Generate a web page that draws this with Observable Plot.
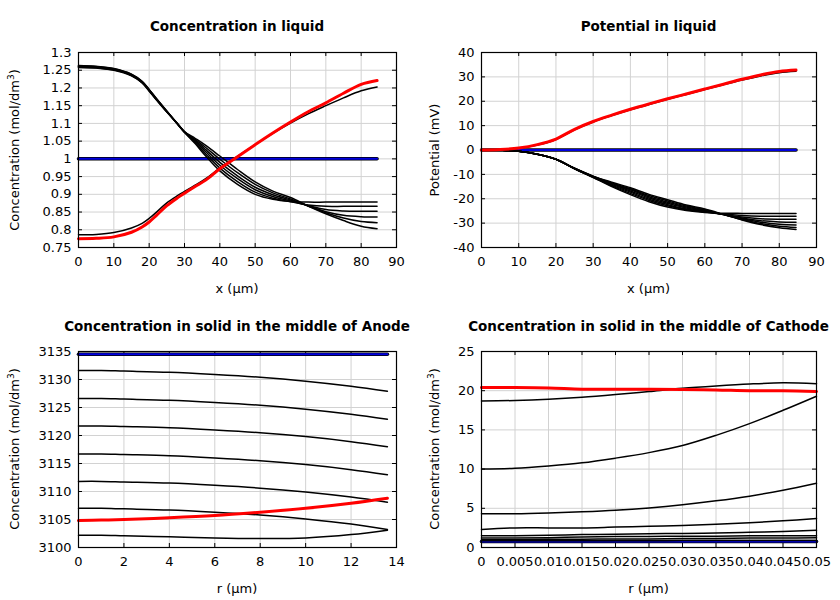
<!DOCTYPE html>
<html><head><meta charset="utf-8">
<script src="https://cdn.jsdelivr.net/npm/d3@7"></script>
<script src="https://cdn.jsdelivr.net/npm/@observablehq/plot@0.6"></script>
<style>
body{margin:0;background:#fff;font-family:"DejaVu Sans",sans-serif;}
#root{position:relative;width:840px;height:600px;overflow:hidden;background:#fff}
.panel{position:absolute}
.title{position:absolute;transform:translate(-50%,-50%);font-weight:bold;font-size:13.5px;white-space:nowrap}
.xl{position:absolute;transform:translate(-50%,-50%);font-size:13px;white-space:nowrap}
.yl{position:absolute;transform:translate(-50%,-50%) rotate(-90deg);font-size:13px;white-space:nowrap}
sup{font-size:9px;vertical-align:5px;line-height:0}
</style></head><body><div id="root"></div><script>
// ---------- Tick labels ----------
const liqXTicks = [0,10,20,30,40,50,60,70,80,90];
const liqYTicks = [0.75,0.8,0.85,0.9,0.95,1,1.05,1.1,1.15,1.2,1.25,1.3];
const potYTicks = [-40,-30,-20,-10,0,10,20,30,40];
const anXTicks = [0,2,4,6,8,10,12,14];
const anYTicks = [3100,3105,3110,3115,3120,3125,3130,3135];
const caXTicks = [0,0.005,0.01,0.015,0.02,0.025,0.03,0.035,0.04,0.045,0.05];
const caYTicks = [0,5,10,15,20,25];

// ---------- Concentration in liquid ----------
const liqX = [0,5,10,15,18,20,22,25,28,30,33,36,40,45,50,55,60,65,70,75,80,84.5];
const liqInit = [1,1,1,1,1,1,1,1,1,1,1,1,1,1,1,1,1,1,1,1,1,1];
const liqA = [1.263,1.261,1.255,1.239,1.219,1.196,1.171,1.135,1.098,1.075,1.043,1.008,0.966,0.928,0.900,0.886,0.880,0.878,0.878,0.878,0.878,0.878];
const liqB = [1.262,1.260,1.254,1.238,1.218,1.195,1.170,1.134,1.098,1.075,1.046,1.014,0.974,0.936,0.906,0.889,0.879,0.870,0.866,0.866,0.866,0.866];
const liqC = [1.261,1.259,1.253,1.237,1.217,1.194,1.169,1.134,1.099,1.075,1.049,1.020,0.982,0.944,0.913,0.894,0.881,0.868,0.857,0.853,0.852,0.852];
const liqD = [1.260,1.258,1.252,1.236,1.216,1.193,1.168,1.133,1.099,1.076,1.052,1.026,0.990,0.952,0.920,0.899,0.884,0.868,0.851,0.841,0.837,0.836];
const liqE = [1.259,1.257,1.251,1.235,1.215,1.192,1.168,1.133,1.100,1.076,1.055,1.032,0.999,0.961,0.928,0.904,0.887,0.867,0.848,0.833,0.823,0.820];
const liqF = [1.258,1.256,1.250,1.234,1.214,1.191,1.167,1.132,1.100,1.077,1.058,1.038,1.008,0.970,0.935,0.909,0.891,0.867,0.845,0.826,0.810,0.803];
const liqG = [0.786,0.787,0.792,0.805,0.818,0.832,0.849,0.876,0.896,0.908,0.926,0.944,0.974,1.007,1.040,1.072,1.101,1.127,1.150,1.172,1.192,1.203];
const liqFinal = [0.775,0.776,0.780,0.793,0.808,0.822,0.840,0.868,0.890,0.903,0.922,0.940,0.972,1.006,1.040,1.073,1.104,1.133,1.158,1.185,1.210,1.221];

// ---------- Potential in liquid ----------
const potX = [0,5,10,15,20,25,30,35,40,45,50,55,60,65,70,75,80,84.5];
const potInit = [0,0,0,0,0,0,0,0,0,0,0,0,0,0,0,0,0,0];
const potP1 = [0,-0.1,-0.5,-1.7,-3.8,-7.7,-11.3,-15.0,-18.3,-21.2,-23.4,-24.8,-25.6,-25.95,-26.0,-26.0,-26.0,-26.0];
const potP2 = [0,-0.1,-0.5,-1.7,-3.8,-7.7,-11.2,-14.7,-17.8,-20.7,-22.9,-24.5,-25.4,-26.3,-26.9,-27.2,-27.2,-27.2];
const potP3 = [0,-0.1,-0.5,-1.7,-3.8,-7.6,-11.1,-14.4,-17.3,-20.2,-22.4,-24.2,-25.2,-26.4,-27.5,-28.2,-28.4,-28.4];
const potP4 = [0,-0.1,-0.5,-1.7,-3.8,-7.6,-11.0,-14.1,-16.8,-19.7,-21.9,-23.8,-25.0,-26.5,-27.9,-29.0,-29.5,-29.6];
const potP5 = [0,-0.1,-0.5,-1.7,-3.8,-7.6,-10.9,-13.8,-16.3,-19.2,-21.4,-23.4,-24.8,-26.5,-28.2,-29.6,-30.5,-30.8];
const potP6 = [0,-0.1,-0.5,-1.7,-3.8,-7.5,-10.8,-13.5,-15.9,-18.7,-20.9,-23.0,-24.5,-26.5,-28.5,-30.2,-31.3,-31.8];
const potP7 = [0,-0.1,-0.5,-1.7,-3.8,-7.5,-10.7,-13.2,-15.5,-18.2,-20.4,-22.6,-24.2,-26.4,-28.7,-30.6,-31.9,-32.6];
const potQ = [0,0.15,0.7,2.0,4.3,8.3,11.5,14.1,16.5,18.7,20.8,22.8,24.8,26.8,28.7,30.4,31.7,32.3];
const potFinal = [0,0.2,0.8,2.2,4.5,8.5,11.7,14.3,16.7,18.9,21.0,23.0,25.0,27.0,29.0,30.8,32.2,32.8];

// ---------- Solid, anode ----------
const anX = [0,1,2,4,6,8,10,12,13.6];
const anInit = [3134.5,3134.5,3134.5,3134.5,3134.5,3134.5,3134.5,3134.5,3134.5];
const anC1 = [3131.6,3131.6,3131.5,3131.3,3130.9,3130.4,3129.7,3128.8,3127.9];
const anC2 = [3126.6,3126.6,3126.5,3126.3,3125.9,3125.4,3124.7,3123.8,3122.9];
const anC3 = [3121.7,3121.7,3121.6,3121.4,3121.0,3120.5,3119.8,3118.9,3118.0];
const anC4 = [3116.7,3116.7,3116.6,3116.4,3116.0,3115.5,3114.8,3113.9,3113.0];
const anC5 = [3111.8,3111.8,3111.7,3111.5,3111.1,3110.6,3109.9,3109.0,3108.1];
const anC6 = [3107.0,3107.0,3106.9,3106.7,3106.3,3105.8,3105.1,3104.2,3103.2];
const anC7 = [3102.2,3102.2,3102.1,3101.9,3101.7,3101.6,3101.7,3102.3,3103.1];
const anFinal = [3104.8,3104.9,3105.0,3105.3,3105.7,3106.3,3107.0,3107.9,3108.8];

// ---------- Solid, cathode ----------
const caX = [0,0.005,0.01,0.015,0.02,0.025,0.03,0.035,0.04,0.045,0.05];
const caInit = [0.75,0.75,0.75,0.75,0.75,0.75,0.75,0.75,0.75,0.75,0.75];
const caK1 = [18.7,18.75,18.9,19.15,19.5,19.9,20.3,20.6,20.85,21.0,20.9];
const caK2 = [10.0,10.1,10.4,10.8,11.4,12.1,13.0,14.3,15.8,17.5,19.3];
const caK3 = [4.3,4.3,4.4,4.55,4.75,5.05,5.45,5.95,6.55,7.3,8.2];
const caK4 = [2.3,2.5,2.5,2.5,2.6,2.7,2.8,2.95,3.15,3.4,3.7];
const caK5 = [1.5,1.5,1.55,1.65,1.7,1.75,1.8,1.85,1.95,2.05,2.2];
const caK6 = [1.2,1.2,1.25,1.35,1.4,1.4,1.45,1.45,1.5,1.5,1.5];
const caK7 = [1.0,1.0,1.05,1.05,1.1,1.1,1.15,1.15,1.2,1.2,1.25];
const caK8 = [0.85,0.85,0.85,0.85,0.87,0.87,0.88,0.88,0.9,0.9,0.9];
const caFinal = [20.4,20.4,20.35,20.2,20.2,20.2,20.15,20.1,20.0,20.0,19.9];

// ---------- helpers ----------
const fmt = d => String(+(+d).toFixed(4));
function rows(xs, list) {
  const out = [];
  list.forEach((ys, i) => ys.forEach((y, j) => out.push({x: xs[j], y, s: i})));
  return out;
}
const root = document.getElementById("root");
function addDiv(cls, html, left, top) {
  const d = document.createElement("div");
  d.className = cls; d.innerHTML = html;
  d.style.left = left + "px"; d.style.top = top + "px";
  root.appendChild(d);
}

const TICK = 4;
function panel(cfg) {
  const blacks = rows(cfg.xs, cfg.blacks);
  const init = rows(cfg.xs, [cfg.init]);
  const fin = rows(cfg.xs, [cfg.fin]);
  const W = 420, H = 300, mb = 53, mr = 24;
  const fw = W - cfg.ml - mr, fh = H - cfg.mt - mb;
  const svg = Plot.plot({
    width: W, height: H,
    marginTop: cfg.mt, marginBottom: mb, marginLeft: cfg.ml, marginRight: mr,
    style: {fontFamily: "DejaVu Sans", fontSize: "13px", color: "black", background: "white", overflow: "visible"},
    x: {domain: cfg.xd},
    y: {domain: cfg.yd},
    marks: [
      Plot.gridX(cfg.xt, {stroke: "#d2d2d2", strokeOpacity: 1}),
      Plot.gridY(cfg.yt, {stroke: "#d2d2d2", strokeOpacity: 1}),
      Plot.axisX(cfg.xt, {anchor: "bottom", tickSize: 0, tickPadding: 9, tickFormat: fmt, label: null}),
      Plot.axisY(cfg.yt, {anchor: "left", tickSize: 0, tickPadding: 7, tickFormat: fmt, label: null}),
      // inward tick marks on all four sides
      Plot.tickX(cfg.xt, {x: d => d, insetTop: fh - TICK, stroke: "black"}),
      Plot.tickX(cfg.xt, {x: d => d, insetBottom: fh - TICK, stroke: "black"}),
      Plot.tickY(cfg.yt, {y: d => d, insetRight: fw - TICK, stroke: "black"}),
      Plot.tickY(cfg.yt, {y: d => d, insetLeft: fw - TICK, stroke: "black"}),
      Plot.line(init, {x: "x", y: "y", z: "s", stroke: "black", strokeWidth: 3.5}),
      Plot.line(init, {x: "x", y: "y", z: "s", stroke: "#0000e0", strokeWidth: 2}),
      Plot.line(blacks, {x: "x", y: "y", z: "s", stroke: "black", strokeWidth: 1.5, curve: "catmull-rom"}),
      Plot.line(fin, {x: "x", y: "y", z: "s", stroke: "#ff0000", strokeWidth: 3, curve: "catmull-rom"}),
      Plot.frame({stroke: "black", strokeWidth: 1.2})
    ]
  });
  const wrap = document.createElement("div");
  wrap.className = "panel";
  wrap.style.left = cfg.left + "px"; wrap.style.top = cfg.top + "px";
  wrap.appendChild(svg);
  root.appendChild(wrap);
  const fx0 = cfg.left + cfg.ml, fx1 = cfg.left + W - mr;
  addDiv("title", cfg.title, (fx0 + fx1) / 2, cfg.top + 26);
  addDiv("xl", cfg.xlabel, (fx0 + fx1) / 2, cfg.top + 288);
  addDiv("yl", cfg.ylabel, cfg.left + cfg.ylx, cfg.top + (cfg.mt + H - mb) / 2);
}

panel({left: 0, top: 0, mt: 52, ml: 78, ylx: 14,
  xs: liqX, xd: [0, 90], yd: [0.75, 1.3], xt: liqXTicks, yt: liqYTicks,
  init: liqInit, blacks: [liqA, liqB, liqC, liqD, liqE, liqF, liqG], fin: liqFinal,
  title: "Concentration in liquid", xlabel: "x (µm)", ylabel: "Concentration (mol/dm<sup>3</sup>)"});

panel({left: 420, top: 0, mt: 52, ml: 61, ylx: 14,
  xs: potX, xd: [0, 90], yd: [-40, 40], xt: liqXTicks, yt: potYTicks,
  init: potInit, blacks: [potP1, potP2, potP3, potP4, potP5, potP6, potP7, potQ], fin: potFinal,
  title: "Potential in liquid", xlabel: "x (µm)", ylabel: "Potential (mV)"});

panel({left: 0, top: 300, mt: 51, ml: 78, ylx: 14,
  xs: anX, xd: [0, 14], yd: [3100, 3135], xt: anXTicks, yt: anYTicks,
  init: anInit, blacks: [anC1, anC2, anC3, anC4, anC5, anC6, anC7], fin: anFinal,
  title: "Concentration in solid in the middle of Anode", xlabel: "r (µm)", ylabel: "Concentration (mol/dm<sup>3</sup>)"});

panel({left: 420, top: 300, mt: 51, ml: 61, ylx: 14,
  xs: caX, xd: [0, 0.05], yd: [0, 25], xt: caXTicks, yt: caYTicks,
  init: caInit, blacks: [caK1, caK2, caK3, caK4, caK5, caK6, caK7, caK8], fin: caFinal,
  title: "Concentration in solid in the middle of Cathode", xlabel: "r (µm)", ylabel: "Concentration (mol/dm<sup>3</sup>)"});
</script></body></html>
